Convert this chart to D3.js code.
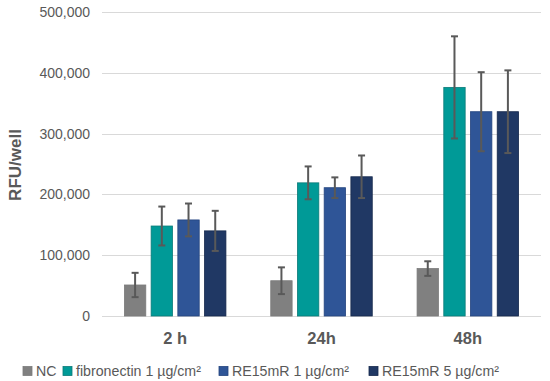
<!DOCTYPE html>
<html>
<head>
<meta charset="utf-8">
<script src="https://cdn.jsdelivr.net/npm/d3@7"></script>
<style>
  body { margin: 0; background: #fff; }
  svg { font-family: "Liberation Sans", Arial, sans-serif; }
</style>
</head>
<body>
<div id="chart"></div>
<script>
// data
var times = ["2 h", "24h", "48h"];
var groups = ["NC", "fibronectin 1 µg/cm²", "RE15mR 1 µg/cm²", "RE15mR 5 µg/cm²"];
var colors = ["#808080", "#009a97", "#2f5597", "#203864"];
var strokes = ["#7a7a7a", "#0b7b78", "#23447e", "#16294c"];
var ncVals = [51000, 58000, 78000];
var fibVals = [148000, 219000, 376000];
var re1Vals = [158000, 211000, 336000];
var re5Vals = [140000, 229000, 336000];
var ncErr = [20000, 22000, 12000];
var fibErr = [32000, 27000, 84000];
var re1Err = [27000, 17000, 65000];
var re5Err = [33000, 35000, 68000];
var yTicks = [0, 100000, 200000, 300000, 400000, 500000];

var allVals = [ncVals, fibVals, re1Vals, re5Vals];
var allErr = [ncErr, fibErr, re1Err, re5Err];

var margin = {top: 12, right: 9, bottom: 65, left: 102},
    width = 550 - margin.left - margin.right,
    height = 381 - margin.top - margin.bottom;

var svg = d3.select("#chart")
  .append("svg")
    .attr("width", 550)
    .attr("height", 381);

var chartGroup = svg.append("g")
  .attr("transform", `translate(${margin.left}, ${margin.top})`);

var x0 = d3.scaleBand()
  .domain(times)
  .range([0, width])
  .paddingInner(0)
  .paddingOuter(0);

// four bars per group, inner band
var x1 = d3.scaleBand()
  .domain(groups)
  .range([0, 101.5])
  .paddingInner(0.2)
  .paddingOuter(0);

var yScale = d3.scaleLinear()
  .domain([0, 500000])
  .range([height, 0]);

// gridlines
chartGroup.append("g")
  .selectAll("line")
  .data(yTicks)
  .enter()
  .append("line")
  .attr("x1", 0)
  .attr("x2", width)
  .attr("y1", d => Math.round(yScale(d)) + 0.5)
  .attr("y2", d => Math.round(yScale(d)) + 0.5)
  .attr("stroke", "#d9d9d9")
  .attr("stroke-width", 1);

// y tick labels
chartGroup.append("g")
  .selectAll("text")
  .data(yTicks)
  .enter()
  .append("text")
  .attr("x", -12)
  .attr("y", d => yScale(d))
  .attr("dy", "0.35em")
  .attr("text-anchor", "end")
  .attr("fill", "#595959")
  .style("font-size", "14px")
  .text(d => d3.format(",")(d));

// table for bars
var rows = [];
times.forEach(function(t, i) {
  groups.forEach(function(g, j) {
    rows.push({time: t, group: g, gi: j, value: allVals[j][i], err: allErr[j][i]});
  });
});

var offset = (x0.bandwidth() - 101.5) / 2;

var barG = chartGroup.append("g");
barG.selectAll("rect")
  .data(rows)
  .enter()
  .append("rect")
  .attr("x", d => x0(d.time) + offset + x1(d.group))
  .attr("y", d => yScale(d.value))
  .attr("width", x1.bandwidth())
  .attr("height", d => height - yScale(d.value))
  .attr("fill", d => colors[d.gi])
  .attr("stroke", d => strokes[d.gi])
  .attr("stroke-width", 0.8);

// error bars
var errG = chartGroup.append("g")
  .selectAll("g")
  .data(rows)
  .enter()
  .append("g")
  .attr("transform", d => `translate(${x0(d.time) + offset + x1(d.group) + x1.bandwidth() / 2}, 0)`);

errG.append("line")
  .attr("x1", 0).attr("x2", 0)
  .attr("y1", d => yScale(d.value + d.err))
  .attr("y2", d => yScale(d.value - d.err))
  .attr("stroke", "#595959")
  .attr("stroke-width", 2);

errG.append("line")
  .attr("x1", -3.5).attr("x2", 3.5)
  .attr("y1", d => yScale(d.value + d.err))
  .attr("y2", d => yScale(d.value + d.err))
  .attr("stroke", "#595959")
  .attr("stroke-width", 2);

errG.append("line")
  .attr("x1", -3.5).attr("x2", 3.5)
  .attr("y1", d => yScale(d.value - d.err))
  .attr("y2", d => yScale(d.value - d.err))
  .attr("stroke", "#595959")
  .attr("stroke-width", 2);

// category labels
chartGroup.append("g")
  .selectAll("text")
  .data(times)
  .enter()
  .append("text")
  .attr("x", d => x0(d) + x0.bandwidth() / 2)
  .attr("y", height + 28)
  .attr("text-anchor", "middle")
  .attr("fill", "#595959")
  .style("font-size", "16.5px")
  .style("font-weight", "bold")
  .text(d => d);

// y axis title
svg.append("text")
  .attr("transform", "rotate(-90)")
  .attr("x", -165)
  .attr("y", 21)
  .attr("text-anchor", "middle")
  .attr("fill", "#595959")
  .style("font-size", "17px")
  .style("font-weight", "bold")
  .text("RFU/well");

// legend
var legendX = [23, 63, 219, 369];
var legend = svg.append("g")
  .selectAll("g")
  .data(groups)
  .enter()
  .append("g")
  .attr("transform", (d, i) => `translate(${legendX[i]}, 371)`);

legend.append("rect")
  .attr("x", 0)
  .attr("y", -4.5)
  .attr("width", 9)
  .attr("height", 9)
  .attr("fill", (d, i) => colors[i])
  .attr("stroke", (d, i) => strokes[i])
  .attr("stroke-width", 0.8);

legend.append("text")
  .attr("x", 13)
  .attr("y", 0)
  .attr("dy", "0.35em")
  .attr("fill", "#595959")
  .style("font-size", "14.2px")
  .text(d => d);
</script>
</body>
</html>
